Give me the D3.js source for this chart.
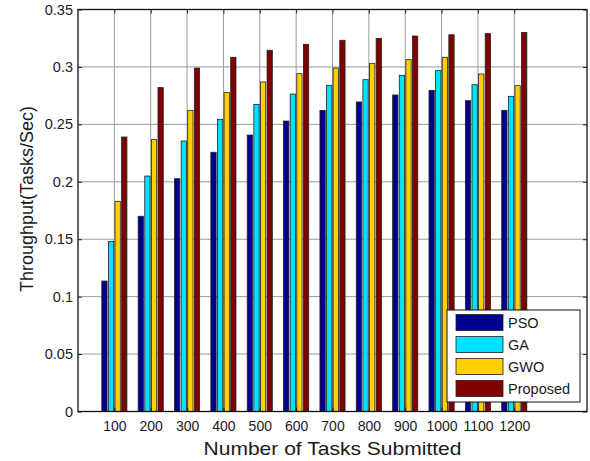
<!DOCTYPE html>
<html>
<head>
<meta charset="utf-8">
<script src="https://cdn.jsdelivr.net/npm/d3@7"></script>
<style>
  body { margin: 0; background: #fff; }
  svg text { font-family: "Liberation Sans", Arial, sans-serif; fill: #1a1a1a; }
</style>
</head>
<body>
<div id="chart"></div>
<script>
const tasks = [100, 200, 300, 400, 500, 600, 700, 800, 900, 1000, 1100, 1200];
const series = ["PSO", "GA", "GWO", "Proposed"];
const pso      = [0.1136, 0.170, 0.2027, 0.2257, 0.2407, 0.2529, 0.2622, 0.2695, 0.2756, 0.2796, 0.2706, 0.2622];
const ga       = [0.148, 0.205, 0.2355, 0.2544, 0.2674, 0.2764, 0.284, 0.2889, 0.2927, 0.297, 0.2845, 0.2744];
const gwo      = [0.183, 0.2367, 0.2622, 0.2776, 0.2869, 0.2941, 0.299, 0.3031, 0.3063, 0.3084, 0.2938, 0.2837];
const proposed = [0.239, 0.282, 0.299, 0.3084, 0.3145, 0.3197, 0.3232, 0.3249, 0.3269, 0.328, 0.329, 0.330];
const yTicks = [0, 0.05, 0.1, 0.15, 0.2, 0.25, 0.3, 0.35];
const colors = ["#000090", "#00e2ff", "#ffd000", "#800000"];

const values = [pso, ga, gwo, proposed];
const width = 590, height = 461;
const margin = {top: 9.5, right: 3, bottom: 49.5, left: 78};

const svg = d3.select("#chart").append("svg")
    .attr("width", width)
    .attr("height", height);

// index scale: categories at 1..12, axis from 0 to 14 like matlab
const x = d3.scaleLinear().domain([0, 14]).range([margin.left, width - margin.right]);
const y = d3.scaleLinear().domain([0, 0.35]).range([height - margin.bottom, margin.top]);

const plotW = width - margin.right - margin.left;

// grid
svg.append("g")
  .selectAll("line")
  .data(yTicks.slice(1, -1))
  .join("line")
    .attr("x1", margin.left).attr("x2", width - margin.right)
    .attr("y1", d => y(d)).attr("y2", d => y(d))
    .attr("stroke", "#9a9a9a").attr("stroke-width", 1);

svg.append("g")
  .selectAll("line")
  .data(d3.range(1, tasks.length + 1))
  .join("line")
    .attr("x1", d => x(d)).attr("x2", d => x(d))
    .attr("y1", y(0)).attr("y2", y(0.35))
    .attr("stroke", "#9a9a9a").attr("stroke-width", 1);

// bars (matlab grouped bar geometry)
const groupW = Math.min(0.8, 4 / (4 + 1.5));
const step = groupW / 4;
const barW = step * 0.8;

series.forEach((s, j) => {
  svg.append("g")
    .selectAll("rect")
    .data(values[j])
    .join("rect")
      .attr("x", (d, i) => x(i + 1 + (j - 1.5) * step - barW / 2))
      .attr("width", x(barW) - x(0))
      .attr("y", d => y(d))
      .attr("height", d => y(0) - y(d))
      .attr("fill", colors[j])
      .attr("stroke", "#222")
      .attr("stroke-width", 0.8);
});

// axes
const yAxis = d3.axisLeft(y).tickValues(yTicks).tickSize(-4).tickPadding(5).tickFormat(d => d3.format("")(d));
svg.append("g")
    .attr("transform", `translate(${margin.left},0)`)
    .call(yAxis)
    .call(g => g.selectAll("text").attr("font-size", 14.5))
    .call(g => g.select(".domain").remove());

svg.append("g")
    .attr("transform", `translate(${width - margin.right},0)`)
    .call(d3.axisRight(y).tickValues(yTicks).tickSize(-4).tickFormat(""))
    .call(g => g.select(".domain").remove());

const xAxis = d3.axisBottom(x).tickValues(d3.range(1, 13)).tickSize(-4).tickPadding(10)
    .tickFormat((d, i) => tasks[i]);
svg.append("g")
    .attr("transform", `translate(0,${y(0)})`)
    .call(xAxis)
    .call(g => g.selectAll("text").attr("font-size", 14))
    .call(g => g.select(".domain").remove());

svg.append("g")
    .attr("transform", `translate(0,${y(0.35)})`)
    .call(d3.axisTop(x).tickValues(d3.range(1, 13)).tickSize(-4).tickFormat(""))
    .call(g => g.select(".domain").remove());

svg.selectAll(".tick line").attr("stroke", "#222");

// box
svg.append("rect")
    .attr("x", margin.left).attr("y", margin.top)
    .attr("width", plotW).attr("height", y(0) - y(0.35))
    .attr("fill", "none").attr("stroke", "#111").attr("stroke-width", 1.3);

// labels
svg.append("text")
    .attr("x", margin.left + plotW / 2)
    .attr("y", 454.5)
    .attr("text-anchor", "middle")
    .attr("font-size", 18.5)
    .attr("textLength", 258)
    .attr("lengthAdjust", "spacingAndGlyphs")
    .text("Number of Tasks Submitted");

svg.append("text")
    .attr("transform", "translate(33,199) rotate(-90)")
    .attr("text-anchor", "middle")
    .attr("font-size", 18)
    .text("Throughput(Tasks/Sec)");

// legend
const lg = svg.append("g").attr("transform", "translate(447,310)");
lg.append("rect")
    .attr("width", 133).attr("height", 92)
    .attr("fill", "#fff").attr("stroke", "#111").attr("stroke-width", 1);
series.forEach((s, j) => {
  lg.append("rect")
      .attr("x", 9).attr("y", 4.5 + j * 22)
      .attr("width", 47).attr("height", 16)
      .attr("fill", colors[j]).attr("stroke", "#222").attr("stroke-width", 0.8);
  lg.append("text")
      .attr("x", 61).attr("y", 12.5 + j * 22)
      .attr("dy", "0.35em")
      .attr("font-size", 14.5)
      .text(s);
});
</script>
</body>
</html>
